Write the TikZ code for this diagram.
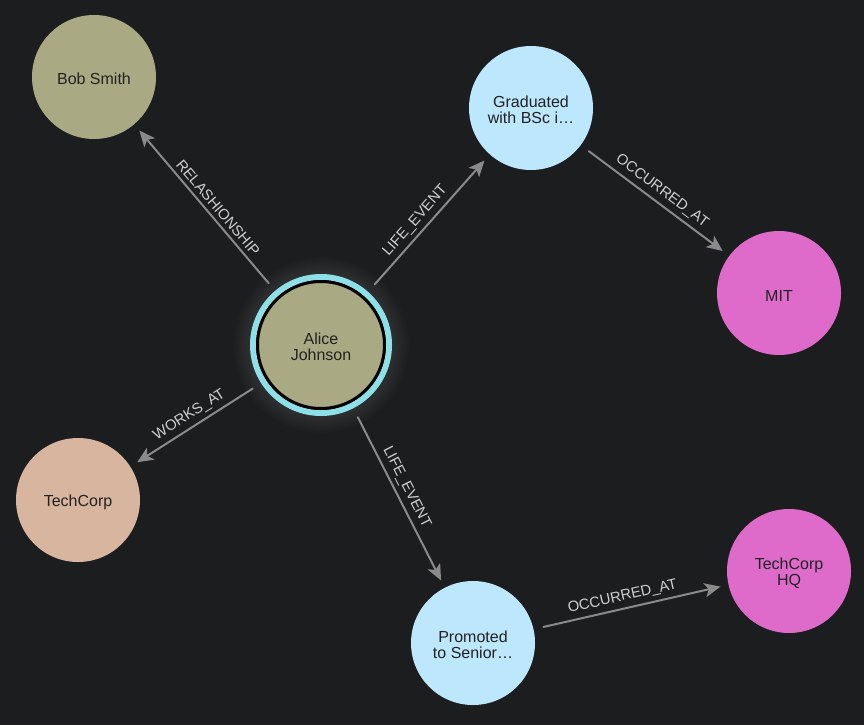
\documentclass[tikz,border=0pt]{standalone}
\usepackage{fontspec}
\setmainfont{Liberation Sans}
\usetikzlibrary{arrows.meta}
\definecolor{bgdark}{HTML}{1C1D1F}
\definecolor{khaki}{HTML}{A9A983}
\definecolor{skyblue}{HTML}{BCE7FC}
\definecolor{orchid}{HTML}{DE6BCA}
\definecolor{peach}{HTML}{D8B59E}
\definecolor{ringcyan}{HTML}{8EE0E8}
\definecolor{edgegray}{HTML}{8A8A8A}
\definecolor{lblgray}{HTML}{CFCFCF}
\definecolor{nodetext}{HTML}{222222}
\begin{document}
\begin{tikzpicture}[x=1pt, y=-1pt, line join=round, line cap=round,
	entity/.style={circle, minimum size=124pt, inner sep=0pt, align=center,
		font=\fontsize{16}{16}\selectfont, text=nodetext,
		execute at begin node={\rule{0pt}{16pt}}},
	tall/.style={execute at begin node={\rule{0pt}{32pt}}},
	rel/.style={draw=edgegray, line width=2pt,
		-{Stealth[length=16pt, width=14pt, inset=4pt]},
		shorten <=10pt, shorten >=8pt},
	lbl/.style={sloped, above, inner sep=4pt, text=lblgray,
		font=\fontsize{14.8}{15}\selectfont}]
	% Nền tối
	\fill[bgdark] (0,0) rectangle (864,725);
	% Quầng sáng quanh nút chính
	\foreach \r in {74,76,...,88}
	\fill[white, opacity=0.012] (321,345) circle (\r);
	% Các nút
	\node[entity, fill=khaki] (bob) at (94,77) {Bob Smith};
	\node[entity, tall, fill=skyblue] (grad) at (531,108) {Graduated\\with BSc i…};
	\node[entity, fill=orchid] (mit) at (779,293) {MIT};
	\node[entity, fill=peach] (techcorp) at (78,500) {TechCorp};
	\node[entity, tall, fill=skyblue] (promo) at (473,643) {Promoted\\to Senior…};
	\node[entity, tall, fill=orchid] (hq) at (789,571) {TechCorp\\HQ};
	% Nút được chọn: viền xanh bên ngoài
	\node[circle, draw=ringcyan, line width=6pt, minimum size=136pt,
		inner sep=0pt] (alice) at (321,345) {};
	\node[entity, tall, fill=khaki, draw=black, line width=3pt,
		minimum size=127pt] (aliceIn) at (alice.center) {Alice\\Johnson};
	% Các cạnh
	\draw[rel] (alice) -- node[lbl, pos=0.46] {RELASHIONSHIP} (bob);
	\draw[rel] (alice) -- node[lbl, pos=0.46] {LIFE\_EVENT} (grad);
	\draw[rel] (grad) -- node[lbl] {OCCURRED\_AT} (mit);
	\draw[rel] (alice) -- node[lbl] {WORKS\_AT} (techcorp);
	\draw[rel] (alice) -- node[lbl, pos=0.47] {LIFE\_EVENT} (promo);
	\draw[rel] (promo) -- node[lbl, pos=0.47] {OCCURRED\_AT} (hq);
\end{tikzpicture}
\end{document}
